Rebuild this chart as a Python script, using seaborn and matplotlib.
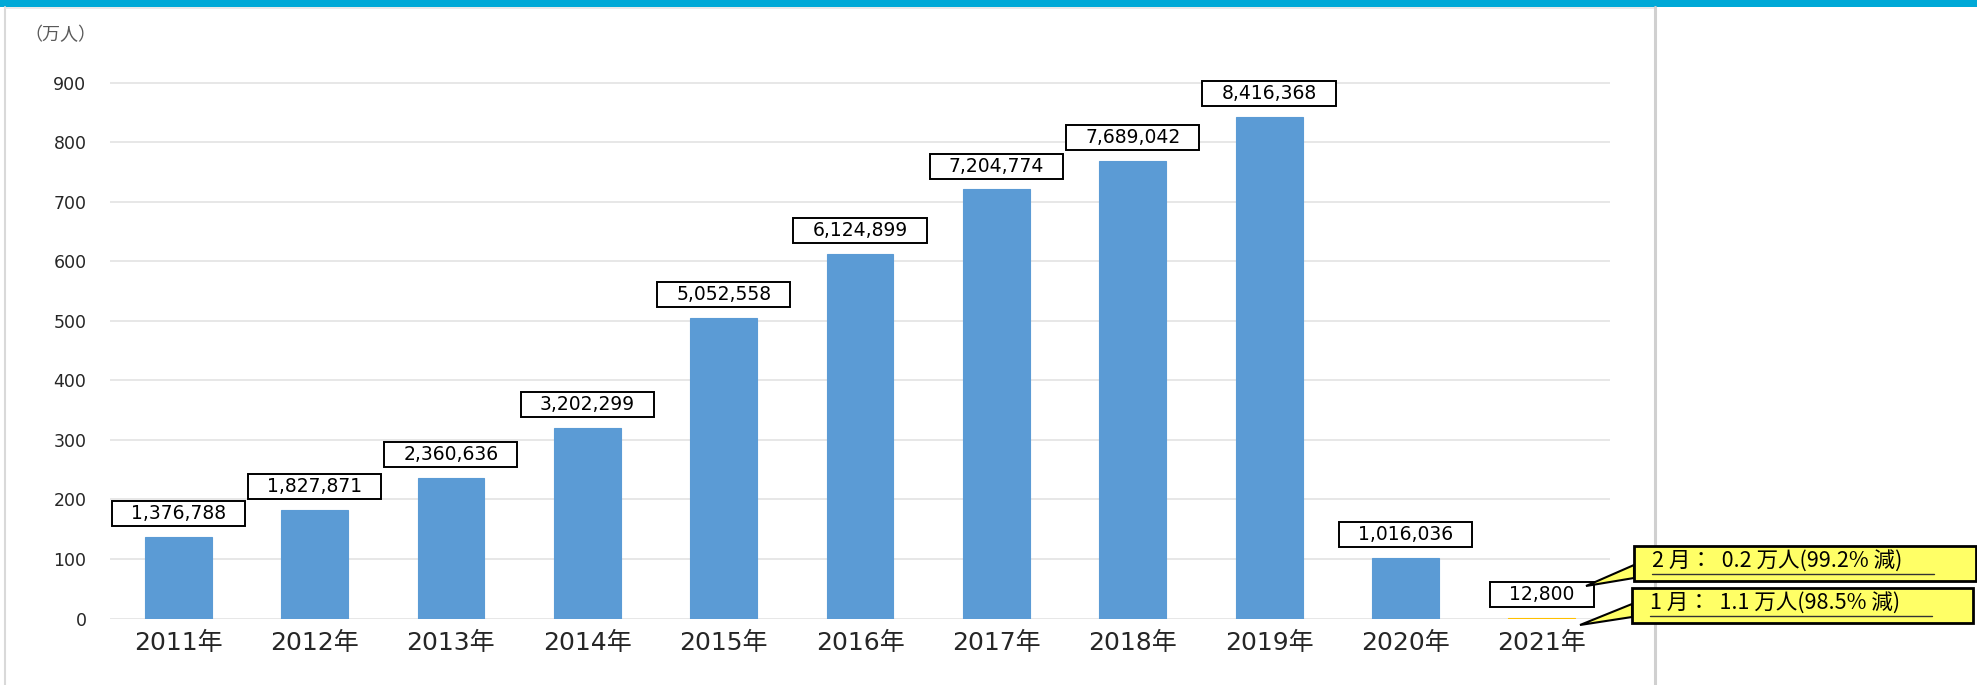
import matplotlib
matplotlib.use("Agg")
import matplotlib.pyplot as plt
import seaborn as sns
import pandas as pd
from matplotlib.path import Path
from matplotlib.patches import Rectangle, Polygon
from matplotlib.lines import Line2D

# ---------------- data ----------------
years = ["2011年", "2012年", "2013年", "2014年", "2015年", "2016年",
         "2017年", "2018年", "2019年", "2020年", "2021年"]
visitors = [1376788, 1827871, 2360636, 3202299, 5052558, 6124899,
            7204774, 7689042, 8416368, 1016036, 12800]
y_ticks = [0, 100, 200, 300, 400, 500, 600, 700, 800, 900]
unit_label = "（万人）"
callout_texts = ["2 月：  0.2 万人(99.2% 減)", "1 月：  1.1 万人(98.5% 減)"]

# ---------------- style ----------------
BAR_BLUE = "#5B9BD5"
BAR_YELLOW = "#FFC000"
CALLOUT_FILL = "#FFFF66"
GRID = "#E3E3E3"
TEXT = "#262626"

sns.set_theme(style="white")
plt.rcParams['font.family'] = ['DejaVu Sans', 'Noto Sans CJK JP']

W, H = 1977, 685
fig = plt.figure(figsize=(W / 100, H / 100), dpi=100)
fig.patch.set_facecolor("white")

ax_left, ax_right, ax_top, ax_bottom = 110, 1610, 82, 619
ax = fig.add_axes([ax_left / W, (H - ax_bottom) / H,
                   (ax_right - ax_left) / W, (ax_bottom - ax_top) / H])

df = pd.DataFrame({"year": years, "value": [v / 10000 for v in visitors]})
palette = [BAR_BLUE] * (len(years) - 1) + [BAR_YELLOW]
sns.barplot(data=df, x="year", y="value", hue="year", palette=palette,
            legend=False, width=0.49, saturation=1, ax=ax, zorder=2)
for p in ax.patches:
    p.set_edgecolor(p.get_facecolor())
    p.set_linewidth(0.8)

ax.set_xlim(-0.5, len(years) - 0.5)
ax.set_ylim(-0.8, 901)
ax.set_yticks(y_ticks)
ax.set_xlabel("")
ax.set_ylabel("")
ax.yaxis.grid(True, color=GRID, linewidth=1.2)
ax.xaxis.grid(False)
ax.set_axisbelow(True)
for s in ax.spines.values():
    s.set_visible(False)
ax.tick_params(axis="y", length=0, pad=17, labelsize=12.5, labelcolor=TEXT)
ax.tick_params(axis="x", length=0, pad=9, labelsize=18, labelcolor=TEXT)


def label_box(x0, y0, width, height, mutation_size):
    px, py = 19.0, 3.0
    x0 -= px
    y0 -= py
    x1 = x0 + width + 2 * px
    y1 = y0 + height + 2 * py
    return Path([(x0, y0), (x1, y0), (x1, y1), (x0, y1), (x0, y0)], closed=True)


for i, v in enumerate(visitors):
    ax.annotate(f"{v:,}", xy=(i, v / 10000), xytext=(0, 10),
                textcoords="offset points", ha="center", va="bottom",
                fontsize=13.5, color="black", zorder=4,
                bbox=dict(boxstyle=label_box, fc="white", ec="black", lw=1.4))

# ---------------- overlay (pixel coordinates) ----------------
ov = fig.add_axes([0, 0, 1, 1], zorder=5)
ov.set_xlim(0, W)
ov.set_ylim(H, 0)
ov.axis("off")

# top band and frame
ov.add_patch(Rectangle((0, 0), W, 7, fc="#00A9D7", ec="none"))
ov.add_line(Line2D([5, 5], [7, H], color="#D9D9D9", lw=1.5))
ov.add_line(Line2D([5, 1655], [8, 8], color="#E6E6E6", lw=1.2))
ov.add_line(Line2D([1655, 1655], [7, H], color="#D0D0D0", lw=2.2))

# unit label
ov.text(60, 35, unit_label, ha="center", va="center", fontsize=13,
        color="#595959", family=['Noto Sans CJK JP', 'DejaVu Sans'])

# callouts
boxes = [(1634, 546, 342, 35), (1632, 588, 341, 35)]
wedges = [[(1634, 565), (1586, 586), (1634, 578)],
          [(1632, 604), (1580, 625), (1632, 617)]]
for (bx, by, bw, bh), wedge, txt in zip(boxes, wedges, callout_texts):
    ov.add_patch(Polygon(wedge, closed=True, fc=CALLOUT_FILL, ec="black",
                         lw=1.5, zorder=1))
    ov.add_patch(Rectangle((bx, by), bw, bh, fc=CALLOUT_FILL, ec="black",
                           lw=2, zorder=2))
    ov.text(bx + 18, by + bh / 2 - 1.5, txt, ha="left", va="center",
            fontsize=15.5, color="black", zorder=3,
            family=['Noto Sans CJK JP', 'DejaVu Sans'])
    ov.add_line(Line2D([bx + 18, bx + 300], [by + bh / 2 + 10, by + bh / 2 + 10],
                       color="#333333", lw=1.0, zorder=3))

fig.savefig("out.png", dpi=100, facecolor="white")
